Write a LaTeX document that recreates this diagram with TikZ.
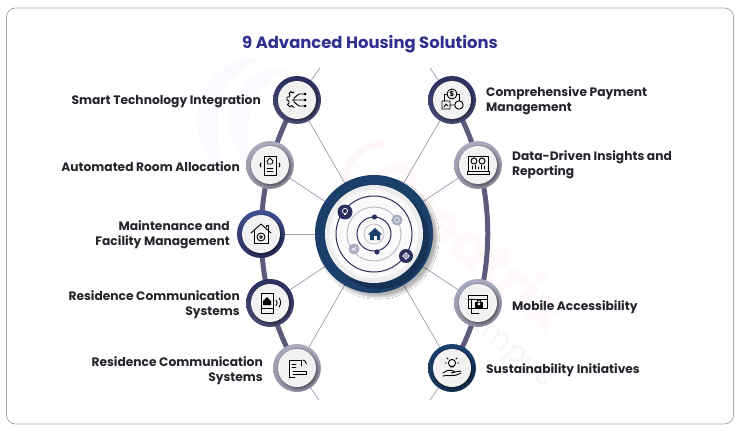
\documentclass[tikz,border=0pt]{standalone}
\usepackage{fontspec}
\setmainfont{Poppins}
\usetikzlibrary{shadows.blur}
\definecolor{navy}{HTML}{2B2F5E}
\definecolor{deep}{HTML}{1B3F6B}
\definecolor{grayp}{HTML}{ABABC0}
\definecolor{royal}{HTML}{3F4F91}
\definecolor{spine}{HTML}{5C5B7C}
\definecolor{spoke}{HTML}{9C9BB0}
\definecolor{txt}{HTML}{22252B}
\definecolor{ttl}{HTML}{2E2F8F}
\tikzset{
  spinepath/.style={line width=5pt,spine},
  spokeline/.style={line width=.7pt,spoke},
  lab/.style={font=\bfseries\fontsize{12.25}{14.6}\selectfont,text=txt,inner sep=0pt},
  ringnode/.style={circle,minimum size=48pt,inner sep=0pt,line width=0pt},
  disc/.style={circle,fill=white!95!black,minimum size=38pt,inner sep=0pt,blur shadow={shadow blur steps=8,shadow xshift=1.5pt,shadow yshift=-1.5pt,shadow opacity=50}},
  ic/.style={line width=.9pt,black,line cap=round,line join=round},
}
\begin{document}
\begin{tikzpicture}[x=1pt,y=-1pt]
\useasboundingbox (0,0) rectangle (740,431);
\fill[white] (0,0) rectangle (740,431);
\draw[line width=.7pt,black!35,rounded corners=9pt] (6.5,8) rectangle (733.5,424);
% watermark
\fill[blue!2.5] (197,110) .. controls (205,75) and (235,55) .. (262,60) .. controls (225,65) and (205,110) .. (225,175) .. controls (205,160) and (195,135) .. (197,110) -- cycle;
\fill[blue!1.5] (228,110) .. controls (235,80) and (265,60) .. (292,70) .. controls (260,75) and (240,110) .. (250,170) .. controls (235,155) and (226,130) .. (228,110) -- cycle;
\draw[line width=6pt,red!3] (345,185) .. controls (345,160) and (360,145) .. (385,143);
\node[rotate=-40,font=\bfseries\fontsize{56}{56}\selectfont,text=red!2.5] (wm1) at (472,243) {Creatrix};
\node[rotate=-40,font=\fontsize{30}{30}\selectfont,text=black!3] (wm2) at (500,342) {Campus};
\node[font=\bfseries\fontsize{16.4}{18}\selectfont,text=ttl,inner sep=0pt] (title) at (370,44) {9 Advanced Housing Solutions};
% positions
\coordinate (hub) at (374,234);
\coordinate (tl1) at (320,68);\coordinate (bl1) at (319,400);
\coordinate (tr1) at (430,68);\coordinate (br1) at (430,400);
\node[ringnode] (L1) at (297,100) {};
\node[ringnode] (L2) at (270,165) {};
\node[ringnode] (L3) at (261,234) {};
\node[ringnode] (L4) at (270,303) {};
\node[ringnode] (L5) at (297,368) {};
\node[ringnode] (R1) at (452,100) {};
\node[ringnode] (R2) at (478,165) {};
\node[ringnode] (R3) at (478,303) {};
\node[ringnode] (R4) at (452,368) {};
% spines
\draw[spinepath] (L1.center) arc[start angle=210,end angle=150,radius=267];
\draw[spinepath] (R1.center) arc[start angle=-30,end angle=30,radius=267];
% spokes
\foreach \a in {L1,L2,L3,L4,L5,R1,R2,R3,R4}{\draw[spokeline] (hub) -- (\a.center);}
\draw[spokeline] (L1.center) -- (tl1);
\draw[spokeline] (L5.center) -- (bl1);
\draw[spokeline] (R1.center) -- (tr1);
\draw[spokeline] (R4.center) -- (br1);
% rings
\foreach \a/\c/\d in {L1/navy/navy!85!white,L2/grayp/grayp!85!black,L3/royal/navy,L4/navy/navy!85!white,L5/grayp/grayp!85!black,R1/navy/navy!85!white,R2/grayp/grayp!85!black,R3/grayp/grayp!85!black,R4/deep/deep!80!black}{
  \shade[top color=\c,bottom color=\d] (\a.center) circle (24);
  \node[disc] at (\a.center) {};
}
% hub
\node[circle,minimum size=118pt,inner sep=0pt,fill=deep,blur shadow={shadow blur steps=10,shadow xshift=4pt,shadow yshift=-4pt,shadow opacity=30}] (hubring) at (hub) {};
\fill[black,opacity=.18] (379,239) circle (50);
\fill[white!93!black] (hub) circle (49);
\fill[white!98!black] (hub) circle (44);
\draw[line width=1pt,navy] (hub) circle (38);
\draw[line width=1pt,grayp!80] (hub) circle (27);
\draw[line width=1pt,navy] (hub) circle (17);
\draw[line width=.8pt,black!25] (hub) circle (10);
\fill[navy] (345,212) circle (7.5);
\fill[navy] (406,256) circle (7);
\fill[grayp] (397,220) circle (5.5);
\fill[grayp] (354,249) circle (5.5);
\fill[navy] (374.5,217) circle (2.6);
\fill[navy] (377,252) circle (2.6);
\draw[white,line width=.7pt] (345,211) circle (2.6) (344,214.5) -- (346,214.5);
\draw[white,line width=.7pt] (406,256) circle (2.6) (402,256) -- (410,256) (406,252) -- (406,260);
\draw[white,line width=.6pt] (397,220) circle (2.4);
\draw[white,line width=.6pt] (351.5,251) -- (356.5,247) (352,248) -- (356,251);
\fill[deep] (368,234.5) -- (375,228) -- (382,234.5) -- (380,234.5) -- (380,240) -- (370,240) -- (370,234.5) -- cycle;
\fill[white] (373.5,236) rectangle (376.5,240);
% icons
\begin{scope}[shift={(L1.center)},ic]
 \draw (-3,-8) -- (-5,-7) -- (-6,-8.5) -- (-8,-6.5) -- (-7,-5) -- (-8,-3) -- (-10,-3) -- (-10,0) -- (-8,1) -- (-8,3) -- (-9.5,4.5) -- (-7,7) -- (-5.5,5.5) -- (-3,7.5);
 \draw (-5,0) -- (8,0) (-3,-2) -- (2,-6) -- (7,-6) (-3,2) -- (2,6) -- (7,6) (-3,-2) -- (-3,2);
 \fill (8,0) circle (1.5) (8,-6) circle (1.5) (8,6) circle (1.5);
\end{scope}
\begin{scope}[shift={(L2.center)},ic]
 \draw (-6,-9) rectangle (6,10);
 \draw (-3,-4) -- (0,-7) -- (3,-4) -- (2,-1) -- (-2,-1) -- cycle;
 \draw (-3,3) -- (3,3) (-3,6) -- (3,6);
 \draw (-9,-2) -- (-10,0) -- (-9,2) (9,-2) -- (10,0) -- (9,2);
\end{scope}
\begin{scope}[shift={(L3.center)},ic]
 \draw (-10,-1) -- (0,-10) -- (10,-1);
 \draw (-7,-3) -- (-7,9) -- (7,9) -- (7,-3);
 \draw (5,-7) -- (5,-9) -- (7,-9) -- (7,-4);
 \draw (0,3) circle (4) (0,3) circle (1.4);
\end{scope}
\begin{scope}[shift={(L4.center)},ic]
 \draw (-9,-10) rectangle (3,10);
 \draw (-9,5) -- (3,5);
 \fill[black] (-7,-2) -- (-3,-6) -- (1,-2) -- (1,2) -- (-7,2) -- cycle;
 \draw (6,-3) arc[start angle=-45,end angle=45,radius=4];
 \draw (9,-5) arc[start angle=-40,end angle=40,radius=7];
\end{scope}
\begin{scope}[shift={(L5.center)},ic]
 \draw (-2,9) -- (-8,9) -- (-8,-8) -- (4,-8) -- (4,-2);
 \draw (-4,3) -- (9,3) -- (9,6) -- (-4,6);
 \draw (-5,-4) -- (-1,-4) (-5,-1) -- (-1,-1);
 \draw (6,-8) arc[start angle=-80,end angle=0,radius=4];
\end{scope}
\begin{scope}[shift={(R1.center)},ic]
 \draw (0,-6) circle (5);
 \node[font=\bfseries\fontsize{7}{7}\selectfont,inner sep=0pt] at (0,-6) {\$};
 \draw (-5,-6) -- (-8,-6) -- (-8,1) (5,-6) -- (7,-6) -- (7,1);
 \draw (-10,1) rectangle (-2,9) (-2,5) -- (3,5) (7,5) circle (4.2);
 \draw (-8,7) -- (-6,4) -- (-4,6);
\end{scope}
\begin{scope}[shift={(R2.center)},ic]
 \draw (-10,-9) rectangle (10,6);
 \draw (-11,6) -- (11,6) -- (11,9) -- (-11,9) -- cycle;
 \draw (-4,-4) circle (3) (4,-4) circle (3);
 \draw (-6,4) -- (-6,1) (-3,4) -- (-3,0) (0,4) -- (0,2) (3,4) -- (3,0) (6,4) -- (6,1);
\end{scope}
\begin{scope}[shift={(R3.center)},ic]
 \draw (-10,-8) rectangle (9,5);
 \draw (-10,-4) -- (9,-4);
 \draw (-7,-4) -- (-7,10) -- (1,10);
 \fill[black] (-3,-1) rectangle (5,5);
 \draw[white,line width=.8pt] (1,1) circle (1);
 \draw (-1,-1) arc[start angle=180,end angle=360,radius=2];
\end{scope}
\begin{scope}[shift={(R4.center)},ic]
 \draw (0,-5) circle (3.6) (-1.5,-1) -- (1.5,-1);
 \draw (-7,-5) -- (-5.5,-5) (5.5,-5) -- (7,-5) (-5,-10) -- (-4,-9) (5,-10) -- (4,-9);
 \draw (-9,5) .. controls (-4,1) and (0,2) .. (3,4) -- (-1,5) (3,4) -- (9,3) (-9,8) .. controls (-4,6) and (0,10) .. (9,5);
\end{scope}
% labels
\node[lab,anchor=east] (t1) at (261,101.5) {Smart Technology Integration};
\node[lab,anchor=east] (t2) at (240,166.5) {Automated Room Allocation};
\node[lab,anchor=east,align=right] (t3) at (230,235) {Maintenance and\\Facility Management};
\node[lab,anchor=east,align=right] (t4) at (240,305) {Residence Communication\\Systems};
\node[lab,anchor=east,align=right] (t5) at (263,371) {Residence Communication\\Systems};
\node[lab,anchor=west,align=left] (t6) at (486,101) {Comprehensive Payment\\Management};
\node[lab,anchor=west,align=left] (t7) at (512,165) {Data-Driven Insights and\\Reporting};
\node[lab,anchor=west] (t8) at (512,307.5) {Mobile Accessibility};
\node[lab,anchor=west] (t9) at (486,370.5) {Sustainability Initiatives};
\end{tikzpicture}
\end{document}
